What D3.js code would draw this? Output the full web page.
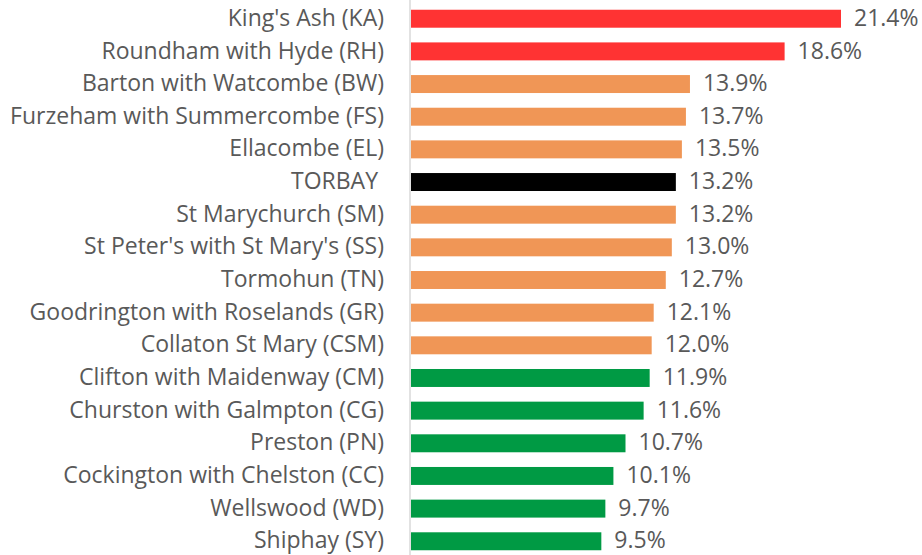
<!DOCTYPE html>
<html><head><meta charset="utf-8">
<script src="https://cdn.jsdelivr.net/npm/d3@7"></script>
<style>body{margin:0;background:#fff}svg{display:block}</style>
</head><body>
<svg id="c" width="922" height="555"></svg>
<script>
const categories = ["King's Ash (KA)","Roundham with Hyde (RH)","Barton with Watcombe (BW)","Furzeham with Summercombe (FS)","Ellacombe (EL)","TORBAY ","St Marychurch (SM)","St Peter's with St Mary's (SS)","Tormohun (TN)","Goodrington with Roselands (GR)","Collaton St Mary (CSM)","Clifton with Maidenway (CM)","Churston with Galmpton (CG)","Preston (PN)","Cockington with Chelston (CC)","Wellswood (WD)","Shiphay (SY)"];
const values = [21.4,18.6,13.9,13.7,13.5,13.2,13.2,13.0,12.7,12.1,12.0,11.9,11.6,10.7,10.1,9.7,9.5];
const groups = ["high","high","mid","mid","mid","total","mid","mid","mid","mid","mid","low","low","low","low","low","low"];
const colorMap = {high:"#FF3333", mid:"#F09656", total:"#000000", low:"#009A44"};

const svg = d3.select("#c");
const x = d3.scaleLinear().domain([0, 21.4]).range([410, 841]);
const y = d3.scaleBand().domain(categories).range([2.4, 557.6]).paddingInner(0.45).paddingOuter(0.225);
const font = "'Open Sans', sans-serif";

svg.selectAll("rect.bar").data(values).join("rect")
  .attr("class","bar")
  .attr("x", x(0)+1)
  .attr("y", (d,i)=>y(categories[i]))
  .attr("width", d=>x(d)-x(0)-1)
  .attr("height", y.bandwidth())
  .attr("fill", (d,i)=>colorMap[groups[i]]);

svg.append("line").attr("x1",410).attr("x2",410).attr("y1",0).attr("y2",555)
  .attr("stroke","#d9d9d9").attr("stroke-width",1.5);

svg.selectAll("text.cat").data(categories).join("text")
  .attr("class","cat")
  .attr("xml:space","preserve")
  .style("white-space","pre")
  .attr("x", 384)
  .attr("y", d=>y(d)+y.bandwidth()/2)
  .attr("dy","0.31em")
  .attr("text-anchor","end")
  .attr("font-family", font).attr("font-size", 23)
  .attr("fill","#595959")
  .text(d=>d);

svg.selectAll("text.val").data(values).join("text")
  .attr("class","val")
  .attr("x", d=>x(d)+13)
  .attr("y", (d,i)=>y(categories[i])+y.bandwidth()/2)
  .attr("dy","0.31em")
  .attr("font-family", font).attr("font-size", 23)
  .attr("fill","#595959")
  .text(d=>d.toFixed(1)+"%");
</script>
</body></html>
